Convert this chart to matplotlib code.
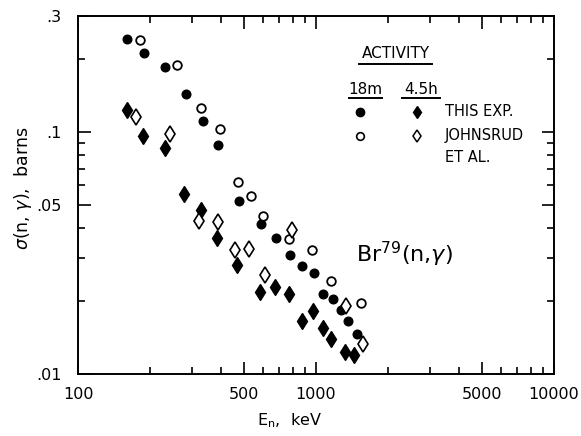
import matplotlib
matplotlib.use("Agg")
import matplotlib.pyplot as plt
from matplotlib.ticker import FixedLocator, NullFormatter

# ---- data ----
e_18m_this = [160, 190, 233, 284, 334, 386, 476, 586, 680, 781, 875, 982, 1072, 1174, 1271, 1367, 1486]
s_18m_this = [0.241, 0.211, 0.184, 0.143, 0.111, 0.088, 0.0519, 0.0417, 0.0364, 0.0309, 0.0279, 0.0260, 0.0214, 0.0203, 0.0184, 0.0166, 0.0146]

e_18m_john = [182, 260, 328, 395, 471, 532, 597, 768, 965, 1159, 1540]
s_18m_john = [0.239, 0.1875, 0.1257, 0.1024, 0.0622, 0.0540, 0.0447, 0.0359, 0.0324, 0.0242, 0.0196]

e_45h_this = [161, 188, 232, 280, 330, 384, 464, 584, 673, 768, 873, 970, 1068, 1160, 1323, 1449]
s_45h_this = [0.1227, 0.0955, 0.0857, 0.0554, 0.0474, 0.0363, 0.0282, 0.0217, 0.0229, 0.0213, 0.01653, 0.01814, 0.01545, 0.01392, 0.01228, 0.01198]

e_45h_john = [175, 244, 322, 387, 458, 521, 611, 789, 1342, 1582]
s_45h_john = [0.1151, 0.0979, 0.0428, 0.0423, 0.0325, 0.0327, 0.0257, 0.0393, 0.0191, 0.0133]

x_major = [100, 500, 1000, 5000, 10000]
x_major_labels = ["100", "500", "1000", "5000", "10000"]
x_minor = [200, 300, 400, 600, 700, 800, 900, 2000, 3000, 4000, 6000, 7000, 8000, 9000]
y_major = [0.01, 0.05, 0.1, 0.3]
y_major_labels = [".01", ".05", ".1", ".3"]
y_minor = [0.02, 0.03, 0.04, 0.06, 0.07, 0.08, 0.09, 0.2]

plt.rcParams['font.family'] = ['DejaVu Sans']

fig = plt.figure(figsize=(5.81, 4.36), dpi=100)
ax = fig.add_axes([0.1343, 0.1422, 0.8193, 0.8211])
ax.set_xscale('log')
ax.set_yscale('log')
ax.set_xlim(100, 10000)
ax.set_ylim(0.01, 0.3)

ms_c = 6.2
ms_d = 7.8
ax.plot(e_18m_this, s_18m_this, 'o', color='black', ms=ms_c, ls='none')
ax.plot(e_18m_john, s_18m_john, 'o', mfc='white', mec='black', mew=1.3, ms=ms_c, ls='none')
ax.plot(e_45h_this, s_45h_this, 'd', color='black', ms=ms_d, ls='none')
ax.plot(e_45h_john, s_45h_john, 'd', mfc='white', mec='black', mew=1.2, ms=ms_d, ls='none')

ax.xaxis.set_major_locator(FixedLocator(x_major))
ax.xaxis.set_minor_locator(FixedLocator(x_minor))
ax.set_xticklabels(x_major_labels)
ax.xaxis.set_minor_formatter(NullFormatter())
ax.yaxis.set_major_locator(FixedLocator(y_major))
ax.yaxis.set_minor_locator(FixedLocator(y_minor))
ax.set_yticklabels(y_major_labels)
ax.yaxis.set_minor_formatter(NullFormatter())

ax.tick_params(which='both', direction='in', top=True, right=True, width=1.2, labelsize=11.5)
ax.tick_params(axis='x', which='major', pad=9)
ax.tick_params(axis='y', which='major', pad=12)
ax.tick_params(which='major', length=9)
ax.tick_params(which='minor', length=5)
for s in ax.spines.values():
    s.set_linewidth(1.4)

ax.set_xlabel(r"$\mathregular{E_n}$,  keV", fontsize=11.5)
ax.set_ylabel(r"$\sigma$(n, $\gamma$),  barns", fontsize=12.5)
ax.xaxis.set_label_coords(0.445, -0.105)
ax.yaxis.set_label_coords(-0.092, 0.52)

# key / annotation
T = ax.transAxes
ax.text(0.667, 0.894, "ACTIVITY", transform=T, ha='center', va='center', fontsize=11)
ax.plot([0.590, 0.744], [0.866, 0.866], transform=T, color='black', lw=1.4, clip_on=False)
ax.text(0.604, 0.796, "18m", transform=T, ha='center', va='center', fontsize=11)
ax.plot([0.569, 0.639], [0.772, 0.772], transform=T, color='black', lw=1.4, clip_on=False)
ax.text(0.721, 0.796, "4.5h", transform=T, ha='center', va='center', fontsize=11)
ax.plot([0.681, 0.761], [0.772, 0.772], transform=T, color='black', lw=1.4, clip_on=False)
ax.plot([0.592], [0.732], 'o', color='black', ms=6, transform=T, clip_on=False)
ax.plot([0.712], [0.732], 'd', color='black', ms=6.5, transform=T, clip_on=False)
ax.text(0.771, 0.732, "THIS EXP.", transform=T, ha='left', va='center', fontsize=10.5)
ax.plot([0.592], [0.665], 'o', mfc='white', mec='black', mew=1.2, ms=5.5, transform=T, clip_on=False)
ax.plot([0.712], [0.665], 'd', mfc='white', mec='black', mew=1.1, ms=6.5, transform=T, clip_on=False)
ax.text(0.771, 0.665, "JOHNSRUD", transform=T, ha='left', va='center', fontsize=10.5)
ax.text(0.771, 0.606, "ET AL.", transform=T, ha='left', va='center', fontsize=10.5)

ax.text(0.585, 0.335, r"Br$^{79}$(n,$\gamma$)", transform=T, ha='left', va='center', fontsize=16)

fig.savefig("out.png", dpi=100)
